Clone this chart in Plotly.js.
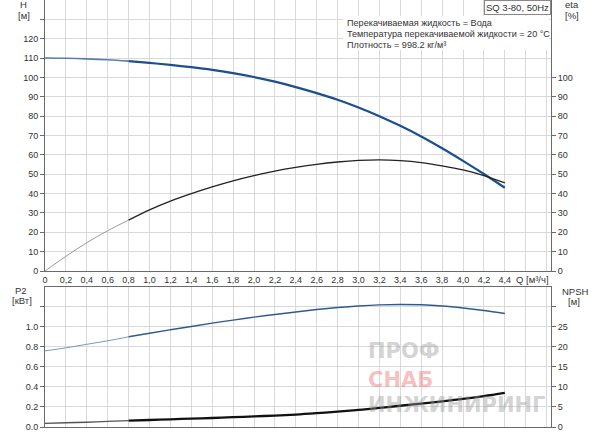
<!DOCTYPE html>
<html>
<head>
<meta charset="utf-8">
<script src="https://cdn.plot.ly/plotly-3.0.1.min.js"></script>
<style>html,body{margin:0;padding:0;background:#fff;}#chart{width:600px;height:434px;}</style>
</head>
<body>
<div id="chart"></div>
<script>
// ---- data ----
var flowQ = [0,0.2,0.4,0.6,0.8,1.0,1.2,1.4,1.6,1.8,2.0,2.2,2.4,2.6,2.8,3.0,3.2,3.4,3.6,3.8,4.0,4.2,4.4];
var headH = [110.0,109.9,109.6,109.1,108.4,107.5,106.5,105.3,103.9,102.2,100.2,97.8,95.0,91.9,88.5,84.5,80.0,75.0,69.5,63.4,56.9,50.1,43.0];
var effEta = [0,7.6,14.6,20.8,26.3,31.6,36.1,40.0,43.5,46.6,49.3,51.6,53.5,55.1,56.3,57.1,57.4,57.0,56.0,54.3,52.2,49.3,45.5];
var powerP2 = [0.76,0.79,0.825,0.86,0.90,0.935,0.97,1.003,1.036,1.067,1.096,1.123,1.148,1.172,1.192,1.208,1.219,1.223,1.22,1.208,1.188,1.163,1.133];
var npshVals = [0.9,1.05,1.2,1.4,1.6,1.75,1.9,2.1,2.25,2.45,2.65,2.85,3.1,3.45,3.85,4.25,4.75,5.3,5.85,6.4,7.0,7.7,8.5];

var xTickVals = [0,0.2,0.4,0.6,0.8,1.0,1.2,1.4,1.6,1.8,2.0,2.2,2.4,2.6,2.8,3.0,3.2,3.4,3.6,3.8,4.0,4.2,4.4,4.6,4.8];
var xTickText = ['0','0,2','0,4','0,6','0,8','1,0','1,2','1,4','1,6','1,8','2,0','2,2','2,4','2,6','2,8','3,0','3,2','3,4','3,6','3,8','4,0','4,2','4,4','',''];
var hTickVals = [0,10,20,30,40,50,60,70,80,90,100,110,120,130];
var hTickText = ['0','10','20','30','40','50','60','70','80','90','100','110','120',''];
var etaTickVals = [0,10,20,30,40,50,60,70,80,90,100];
var etaTickText = ['0','10','20','30','40','50','60','70','80','90','100'];
var p2TickVals = [0,0.2,0.4,0.6,0.8,1.0,1.2];
var p2TickText = ['0.0','0.2','0.4','0.6','0.8','1.0',''];
var npshTickVals = [0,5,10,15,20,25,30];
var npshTickText = ['0','5','10','15','20','25',''];

var infoLines = ['Перекачиваемая жидкость = Вода','Температура перекачиваемой жидкости = 20 °C','Плотность = 998.2 кг/м³'];
var pumpLabel = 'SQ 3-80, 50Hz';
var watermark = ['ПРОФ','СНАБ','ИНЖИНИРИНГ'];

// ---- build ----
var split = 4; // index of Q = 0.8, where curves turn dark
function seg(arr, light){ return light ? arr.slice(0, split+1) : arr.slice(split); }
function mk(yArr, xa, ya, light, color, width){
  return {x: seg(flowQ, light), y: seg(yArr, light), xaxis: xa, yaxis: ya, mode: 'lines',
          line: {color: color, width: width, shape: 'spline', smoothing: 1}, hoverinfo: 'skip', showlegend: false};
}
var traces = [
  mk(headH, 'x', 'y', true, '#5b7ea8', 1.6),
  mk(headH, 'x', 'y', false, '#1c4f8e', 2.2),
  mk(effEta, 'x', 'y2', true, '#9a9a9a', 1.0),
  mk(effEta, 'x', 'y2', false, '#222222', 1.3),
  mk(powerP2, 'x2', 'y3', true, '#7d98b8', 1.0),
  mk(powerP2, 'x2', 'y3', false, '#2d5b90', 1.4),
  mk(npshVals, 'x2', 'y4', true, '#555555', 1.4),
  mk(npshVals, 'x2', 'y4', false, '#111111', 2.3)
];

var W = 600, H = 434, mL = 45, mR = 49, mT = 0, mB = 7;
var pw = W - mL - mR, ph = H - mT - mB;
function px(x){ return (x - mL) / pw; }
function py(y){ return (ph - (y - mT)) / ph; }

var fam = '"Liberation Sans", Arial, sans-serif';
var gridC = '#d9d9d9', lineC = '#6a6a6a', tickF = {family: fam, size: 9, color: '#333'};
var xr = [0, 4.842];
function yax(extra){
  var base = {showgrid: true, gridcolor: gridC, gridwidth: 1, zeroline: false, showline: true, linecolor: lineC, linewidth: 1,
              ticks: 'outside', ticklen: 4, tickcolor: lineC, tickfont: tickF, tickmode: 'array', fixedrange: true};
  for (var k in extra) base[k] = extra[k];
  return base;
}

var layout = {
  width: W, height: H, margin: {l: mL, r: mR, t: mT, b: mB, pad: 0},
  paper_bgcolor: '#fff', plot_bgcolor: '#fff', showlegend: false,
  font: {family: fam, size: 9, color: '#333'},
  xaxis: yax({domain: [0, 1], range: xr, anchor: 'y', tickvals: xTickVals, ticktext: xTickText, tickangle: 0, ticks: ''}),
  yaxis: yax({domain: [py(271), 1], range: [0, 140], anchor: 'x', tickvals: hTickVals, ticktext: hTickText}),
  yaxis2: yax({overlaying: 'y', side: 'right', range: [0, 140], anchor: 'x', showgrid: false, tickvals: etaTickVals, ticktext: etaTickText}),
  xaxis2: yax({domain: [0, 1], range: xr, anchor: 'y3', tickvals: xTickVals, ticktext: xTickText, showticklabels: false, ticks: '', mirror: true}),
  yaxis3: yax({domain: [0, py(286.7)], range: [0, 1.4], anchor: 'x2', tickvals: p2TickVals, ticktext: p2TickText}),
  yaxis4: yax({overlaying: 'y3', side: 'right', range: [0, 35], anchor: 'x2', showgrid: false, tickvals: npshTickVals, ticktext: npshTickText}),
  shapes: [
    {type: 'rect', xref: 'paper', yref: 'paper', x0: px(343), x1: px(549), y0: py(50), y1: py(16), fillcolor: '#fff', line: {width: 0}, layer: 'above'}
  ],
  annotations: []
};

var A = layout.annotations;
function lab(text, x, y, opts){
  var a = {text: text, xref: 'paper', yref: 'paper', x: px(x), y: py(y), showarrow: false, xanchor: 'center', yanchor: 'middle',
           font: {family: fam, size: 9.5, color: '#333'}};
  for (var k in (opts || {})) a[k] = opts[k];
  A.push(a);
}
lab('H', 23.5, 4.5); lab('[м]', 24.3, 15);
lab('eta', 571.7, 4.5); lab('[%]', 571.7, 15);
lab('P2', 21, 290); lab('[кВт]', 22, 300);
lab('NPSH', 575, 291.7); lab('[м]', 574, 301.7);
lab('Q [м³/ч]', 532, 279.5);
lab(pumpLabel, 551, 0, {xanchor: 'right', yanchor: 'top', bordercolor: '#888', borderwidth: 1, borderpad: 1, bgcolor: '#fff'});
var infoF = {family: fam, size: 9.1, color: '#333'};
lab(infoLines[0], 345, 22.7, {xanchor: 'left', font: infoF});
lab(infoLines[1], 345, 33.8, {xanchor: 'left', font: infoF});
lab(infoLines[2], 345, 44.6, {xanchor: 'left', font: infoF});
// watermark (kept inside the plot area so it does not collide with the NPSH ticks)
var wmF = function(c){ return {family: 'DejaVu Sans, sans-serif', size: 21, weight: 'bold', color: c}; };
lab(watermark[0], 366, 351, {xanchor: 'left', font: wmF('rgba(150,150,150,0.42)')});
lab(watermark[1], 366, 379.5, {xanchor: 'left', font: wmF('rgba(240,100,100,0.42)')});
lab(watermark[2], 366, 404.5, {xanchor: 'left', font: wmF('rgba(150,150,150,0.42)')});

Plotly.newPlot('chart', traces, layout, {staticPlot: true, displayModeBar: false});
</script>
</body>
</html>
